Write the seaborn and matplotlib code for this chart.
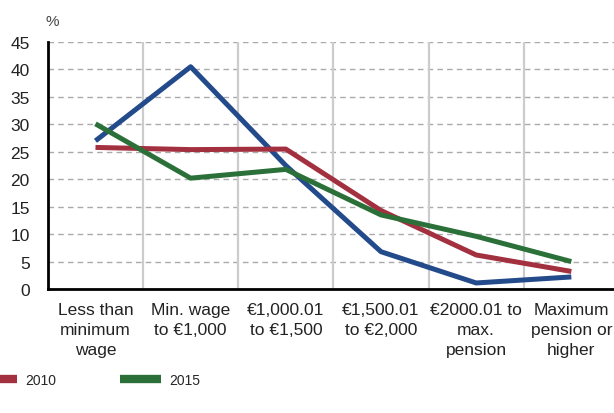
import pandas as pd
import matplotlib.pyplot as plt
import matplotlib.ticker as mticker
import seaborn as sns

# Data
categories = [
    "Less than\nminimum\nwage",
    "Min. wage\nto €1,000",
    "€1,000.01\nto €1,500",
    "€1,500.01\nto €2,000",
    "€2000.01 to\nmax.\npension",
    "Maximum\npension or\nhigher",
]
years = ["2005", "2010", "2015"]
values_2005 = [27.0, 40.5, 22.5, 6.8, 1.1, 2.2]
values_2010 = [25.8, 25.4, 25.5, 14.3, 6.2, 3.2]
values_2015 = [30.1, 20.2, 21.8, 13.5, 9.6, 5.0]
colors = ["#234b8c", "#a3303f", "#2a7038"]

rows = []
for year, vals in zip(years, [values_2005, values_2010, values_2015]):
    for i, v in enumerate(vals):
        rows.append({"pos": i, "value": v, "year": year})
df = pd.DataFrame(rows)

sns.set_style("white")
plt.rcParams["font.family"] = ["Liberation Sans", "DejaVu Sans"]

fig = plt.figure(figsize=(6.14, 4.14), dpi=100)
ax = fig.add_axes([0.078, 0.2995, 0.93, 0.5965])

sns.lineplot(data=df, x="pos", y="value", hue="year", palette=colors,
             linewidth=3.6, ax=ax, legend=False, solid_capstyle="butt", zorder=3)

ax.set_xlim(-0.5, 5.5)
ax.set_ylim(0, 45)
ax.set_yticks(range(0, 50, 5))
ax.set_xticks(range(len(categories)))
ax.set_xticklabels(categories, fontsize=12.5, linespacing=1.45, color="#222222")
boundaries = [0.5, 1.5, 2.5, 3.5, 4.5]
ax.xaxis.set_minor_locator(mticker.FixedLocator(boundaries))
ax.tick_params(axis="x", which="major", length=0, pad=9)
ax.tick_params(axis="x", which="minor", length=4, direction="in", color="#555555", width=1)
ax.tick_params(axis="y", length=0, labelsize=12.5, pad=13, labelcolor="#222222")
ax.grid(False)
ax.yaxis.grid(True, linestyle=(0, (4, 3)), color="#aaaaaa", linewidth=1)
for b in boundaries:
    ax.axvline(b, color="#cccccc", linewidth=1.6, linestyle="-", zorder=1)
ax.set_axisbelow(True)
ax.set_xlabel("")
ax.set_ylabel("")

for side in ["top", "right"]:
    ax.spines[side].set_visible(False)
for side in ["left", "bottom"]:
    ax.spines[side].set_color("black")
    ax.spines[side].set_linewidth(2)
    ax.spines[side].set_zorder(4)

fig.text(0.085, 0.948, "%", fontsize=11, color="#444444", ha="center", va="center")

handles = [plt.Line2D([], [], color=c, linewidth=6, solid_capstyle="butt") for c in colors]
fig.legend(handles, years, loc="center left", bbox_to_anchor=(-0.275, 0.08), ncol=3,
           frameon=False, handlelength=3.0, handletextpad=0.55, columnspacing=4.6,
           borderpad=0, borderaxespad=0,
           prop={"family": ["Liberation Sans", "DejaVu Sans"], "size": 10})

fig.savefig("out.png", dpi=100)
